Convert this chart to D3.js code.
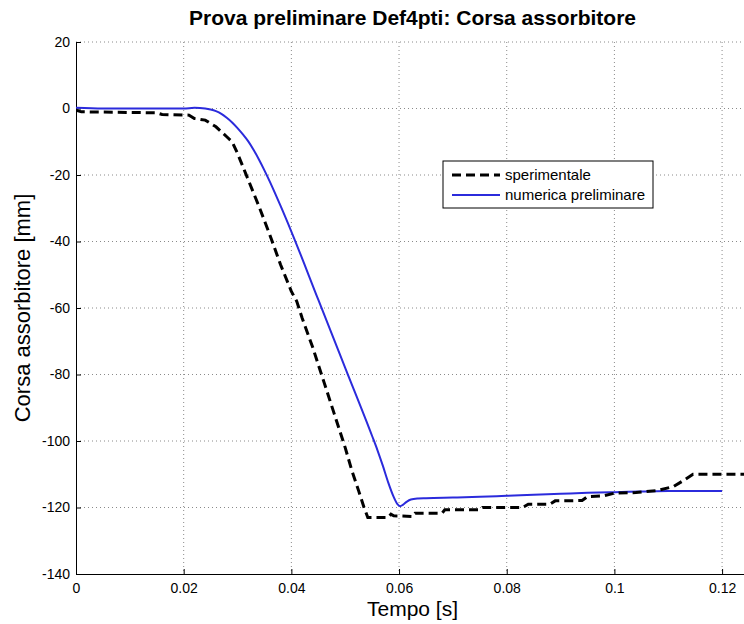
<!DOCTYPE html>
<html>
<head>
<meta charset="utf-8">
<script src="https://cdn.jsdelivr.net/npm/d3@7"></script>
<style>
  html, body { margin: 0; padding: 0; background: #fff; }
  svg { display: block; font-family: "Liberation Sans", Arial, sans-serif; }
</style>
</head>
<body>
<svg id="chart" width="744" height="624"></svg>
<script>
// Experimental stroke (time [s], stroke [mm])
const tSperimentale = [0, 0.001, 0.015, 0.016, 0.021, 0.022, 0.024, 0.025, 0.026, 0.027, 0.028, 0.029, 0.030, 0.031, 0.032, 0.034, 0.036, 0.038, 0.040, 0.041, 0.042, 0.044, 0.046, 0.048, 0.050, 0.0512, 0.0525, 0.0535, 0.0542, 0.058, 0.0585, 0.059, 0.0626, 0.063, 0.068, 0.0685, 0.075, 0.0755, 0.083, 0.084, 0.088, 0.089, 0.094, 0.095, 0.098, 0.100, 0.104, 0.108, 0.111, 0.113, 0.1146, 0.125];
const ySperimentale = [-0.5, -1, -1.3, -1.8, -2, -3, -3.5, -4.5, -5.5, -7, -8.5, -10, -13.5, -17.5, -21.5, -29.5, -38, -47, -55, -58, -63, -72, -82, -92, -102, -108.7, -115, -120, -123, -123, -122, -122.5, -122.7, -121.7, -121.7, -120.7, -120.7, -120, -120, -119, -119, -118, -117.9, -116.7, -116.5, -115.7, -115.5, -114.9, -113.7, -111.7, -110, -110];

// Preliminary numerical stroke
const tNumerica = [0, 0.005, 0.010, 0.015, 0.020, 0.022, 0.024, 0.025, 0.026, 0.027, 0.028, 0.029, 0.030, 0.031, 0.032, 0.033, 0.034, 0.035, 0.036, 0.037, 0.038, 0.040, 0.045, 0.050, 0.055, 0.056, 0.057, 0.058, 0.059, 0.0597, 0.0602, 0.0607, 0.0614, 0.0622, 0.0635, 0.065, 0.070, 0.075, 0.080, 0.085, 0.090, 0.095, 0.100, 0.105, 0.110, 0.115, 0.120];
const yNumerica = [0.2, 0, 0, 0, 0, 0.2, 0, -0.3, -0.8, -1.6, -2.8, -4.2, -5.9, -7.8, -9.9, -12.5, -15.4, -18.6, -22, -25.6, -29.3, -37, -57.5, -78, -98.5, -102.8, -107.5, -112.5, -116.8, -119, -119.6, -119.2, -118.3, -117.6, -117.3, -117.2, -117, -116.8, -116.5, -116.2, -115.9, -115.6, -115.4, -115.2, -115, -115, -115];

const xTicks = [0, 0.02, 0.04, 0.06, 0.08, 0.1, 0.12];
const yTicks = [20, 0, -20, -40, -60, -80, -100, -120, -140];

const titleText = "Prova preliminare Def4pti: Corsa assorbitore";
const xLabelText = "Tempo [s]";
const yLabelText = "Corsa assorbitore [mm]";
const seriesNames = ["sperimentale", "numerica preliminare"];

const svg = d3.select("#chart");
const plotLeft = 76, plotRight = 749, plotTop = 42, plotBottom = 574;

const x = d3.scaleLinear().domain([0, 0.125]).range([plotLeft, plotRight]);
const y = d3.scaleLinear().domain([-140, 20]).range([plotBottom, plotTop]);

// Dotted grid
const grid = svg.append("g").attr("stroke", "#8a8a8a").attr("stroke-width", 1)
  .attr("stroke-dasharray", "1,3");
xTicks.filter(d => d !== 0).forEach(d => {
  grid.append("line").attr("x1", x(d)).attr("x2", x(d)).attr("y1", plotTop).attr("y2", plotBottom);
});
yTicks.filter(d => d !== -140).forEach(d => {
  grid.append("line").attr("x1", plotLeft).attr("x2", plotRight).attr("y1", y(d)).attr("y2", y(d));
});

// Axes with inward ticks
const fmt = d => String(d);
const xAxis = d3.axisBottom(x).tickValues(xTicks).tickSize(-5).tickPadding(9).tickFormat(fmt);
const yAxis = d3.axisLeft(y).tickValues(yTicks).tickSize(-5).tickPadding(6).tickFormat(fmt);

const gx = svg.append("g").attr("transform", `translate(0,${plotBottom})`).call(xAxis);
const gy = svg.append("g").attr("transform", `translate(${plotLeft},0)`).call(yAxis);
[gx, gy].forEach(g => {
  g.select(".domain").attr("stroke", "#000").attr("stroke-width", 1);
  g.selectAll(".tick line").attr("stroke", "#000");
  g.selectAll(".tick text").attr("fill", "#000").attr("font-size", 14)
    .attr("font-family", "Liberation Sans, Arial, sans-serif");
});

// Data lines
const numData = tNumerica.map((t, i) => [t, yNumerica[i]]);
const speData = tSperimentale.map((t, i) => [t, ySperimentale[i]]);
const lineNum = d3.line().x(d => x(d[0])).y(d => y(d[1])).curve(d3.curveMonotoneX);
const lineSpe = d3.line().x(d => x(d[0])).y(d => y(d[1]));

const clip = svg.append("clipPath").attr("id", "plotclip");
clip.append("rect").attr("x", plotLeft).attr("y", plotTop - 2)
  .attr("width", plotRight - plotLeft).attr("height", plotBottom - plotTop + 2);

svg.append("path").datum(numData).attr("d", lineNum)
  .attr("fill", "none").attr("stroke", "#2b2bdc").attr("stroke-width", 2)
  .attr("clip-path", "url(#plotclip)");
svg.append("path").datum(speData).attr("d", lineSpe)
  .attr("fill", "none").attr("stroke", "#000").attr("stroke-width", 3)
  .attr("stroke-dasharray", "9,5")
  .attr("clip-path", "url(#plotclip)");

// Legend
const lg = svg.append("g").attr("transform", "translate(443,161)");
lg.append("rect").attr("width", 210).attr("height", 47)
  .attr("fill", "#fff").attr("stroke", "#000").attr("stroke-width", 1);
lg.append("line").attr("x1", 9).attr("x2", 57).attr("y1", 14).attr("y2", 14)
  .attr("stroke", "#000").attr("stroke-width", 3).attr("stroke-dasharray", "9,5");
lg.append("line").attr("x1", 9).attr("x2", 57).attr("y1", 34).attr("y2", 34)
  .attr("stroke", "#2b2bdc").attr("stroke-width", 2);
seriesNames.forEach((s, i) => {
  lg.append("text").attr("x", 62).attr("y", 14 + i * 20).attr("dy", "0.35em")
    .attr("font-size", 15).attr("fill", "#000").text(s);
});

// Titles
svg.append("text").attr("x", (plotLeft + plotRight) / 2).attr("y", 25)
  .attr("text-anchor", "middle").attr("font-size", 21).attr("font-weight", "bold")
  .text(titleText);
svg.append("text").attr("x", (plotLeft + plotRight) / 2).attr("y", 616)
  .attr("text-anchor", "middle").attr("font-size", 21).text(xLabelText);
svg.append("text").attr("transform", `translate(30,${(plotTop + plotBottom) / 2}) rotate(-90)`)
  .attr("text-anchor", "middle").attr("font-size", 22).text(yLabelText);
</script>
</body>
</html>
